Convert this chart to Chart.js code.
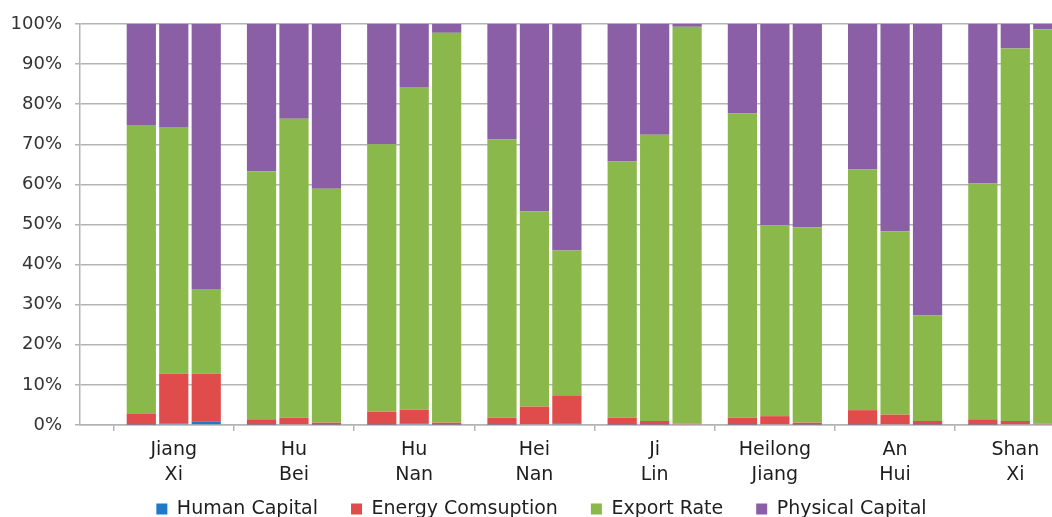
<!DOCTYPE html>
<html>
<head>
<meta charset="utf-8">
<script src="https://cdn.jsdelivr.net/npm/chart.js@4/dist/chart.umd.min.js"></script>
<style>
    html, body { margin: 0; padding: 0; background: #fff; overflow: hidden; }
    #wrap { width: 1052px; height: 517px; overflow: hidden; position: relative; }
    #shareChart { position: absolute; left: 0; top: 0; }
</style>
</head>
<body>
<div id="wrap">
    <canvas id="shareChart" width="1073" height="552" style="width:1073px;height:552px"></canvas>
</div>
<script>
// regions (two-line axis labels)
const regions = [
    ['Jiang', 'Xi'], ['Hu', 'Bei'], ['Hu', 'Nan'], ['Hei', 'Nan'],
    ['Ji', 'Lin'], ['Heilong', 'Jiang'], ['An', 'Hui'], ['Shan', 'Xi']
];

// each series: three bars per region, values in %
const humanCapital = [
    [0.1, 0.1, 0.1, 0.1, 0.1, 0.1, 0.1, 0.1],
    [0.3, 0.2, 0.3, 0.2, 0.1, 0.2, 0.2, 0.2],
    [0.9, 0.1, 0.1, 0.3, 0.0, 0.1, 0.1, 0.0]
];
const energyConsumption = [
    [2.8, 1.3, 3.2, 1.7, 1.7, 1.7, 3.6, 1.3],
    [12.5, 1.6, 3.5, 4.4, 0.9, 2.0, 2.4, 0.8],
    [11.9, 0.5, 0.5, 7.1, 0.3, 0.5, 0.9, 0.3]
];
const exportRate = [
    [71.9, 61.9, 66.7, 69.4, 63.9, 75.9, 60.0, 58.8],
    [61.5, 74.6, 80.5, 48.7, 71.4, 47.6, 45.7, 92.9],
    [21.1, 58.3, 97.2, 36.1, 99.0, 48.7, 26.3, 98.4]
];
const physicalCapital = [
    [25.2, 36.7, 30.0, 28.8, 34.3, 22.3, 36.3, 39.8],
    [25.7, 23.6, 15.7, 46.7, 27.6, 50.2, 51.7, 6.1],
    [66.1, 41.1, 2.2, 56.5, 0.7, 50.7, 72.7, 1.3]
];

const seriesNames = ['Human Capital', 'Energy Comsuption', 'Export Rate', 'Physical Capital'];
const yTicks = [0, 10, 20, 30, 40, 50, 60, 70, 80, 90, 100];

// visible window of the category axis (in category units)
const X_VIEW_MIN = -0.78;
const X_VIEW_MAX = 7.48;

const colors = ['#1f78c8', '#e04b4b', '#8ab84a', '#8a5fa6'];
const gridColor = '#b4b4b4';

let allSeries = [humanCapital, energyConsumption, exportRate, physicalCapital];
let datasets = [];
allSeries.forEach(function (series, s) {
    series.forEach(function (values, b) {
        datasets.push({
            label: seriesNames[s],
            data: values,
            stack: 'bar' + b,
            backgroundColor: colors[s],
            borderWidth: 0,
            categoryPercentage: 0.81,
            barPercentage: 0.9
        });
    });
});

// legend sits partly under the x labels in the original, pull it up
const legendShift = {
    id: 'legendShift',
    afterLayout: function (chart) {
        chart.legend.top -= 20.5;
        chart.legend.bottom -= 20.5;
    }
};

const ctx = document.getElementById('shareChart').getContext('2d');
new Chart(ctx, {
    type: 'bar',
    data: { labels: regions, datasets: datasets },
    plugins: [legendShift],
    options: {
        responsive: false,
        animation: false,
        devicePixelRatio: 1,
        layout: { padding: { top: 24, left: 10, right: 0, bottom: 3 } },
        scales: {
            x: {
                stacked: true,
                afterBuildTicks: function (scale) {
                    scale._startValue = X_VIEW_MIN;
                    scale._valueRange = X_VIEW_MAX - X_VIEW_MIN;
                },
                afterFit: function (scale) { scale.height = 62; },
                grid: { drawOnChartArea: false, color: gridColor, lineWidth: 1.5, tickLength: 6 },
                border: { color: gridColor, width: 1.5 },
                ticks: {
                    autoSkip: false, maxRotation: 0, padding: 7,
                    color: '#1e1e1e',
                    font: { family: 'DejaVu Sans', size: 19, lineHeight: 1.3 }
                }
            },
            y: {
                stacked: true,
                min: 0,
                max: 100,
                afterBuildTicks: function (scale) {
                    scale.ticks = yTicks.map(v => ({ value: v }));
                },
                afterFit: function (scale) { scale.width = 70; },
                grid: { color: gridColor, lineWidth: 1.5, tickLength: 5 },
                border: { color: gridColor, width: 1.5 },
                ticks: {
                    padding: 13,
                    color: '#333',
                    font: { family: 'DejaVu Sans', size: 18 },
                    callback: v => v + '%'
                }
            }
        },
        plugins: {
            tooltip: { enabled: false },
            legend: {
                position: 'bottom',
                labels: {
                    boxWidth: 11,
                    boxHeight: 11,
                    padding: 33,
                    color: '#1e1e1e',
                    font: { family: 'DejaVu Sans', size: 19 },
                    filter: item => item.datasetIndex % 3 === 0
                }
            }
        }
    }
});
</script>
</body>
</html>
